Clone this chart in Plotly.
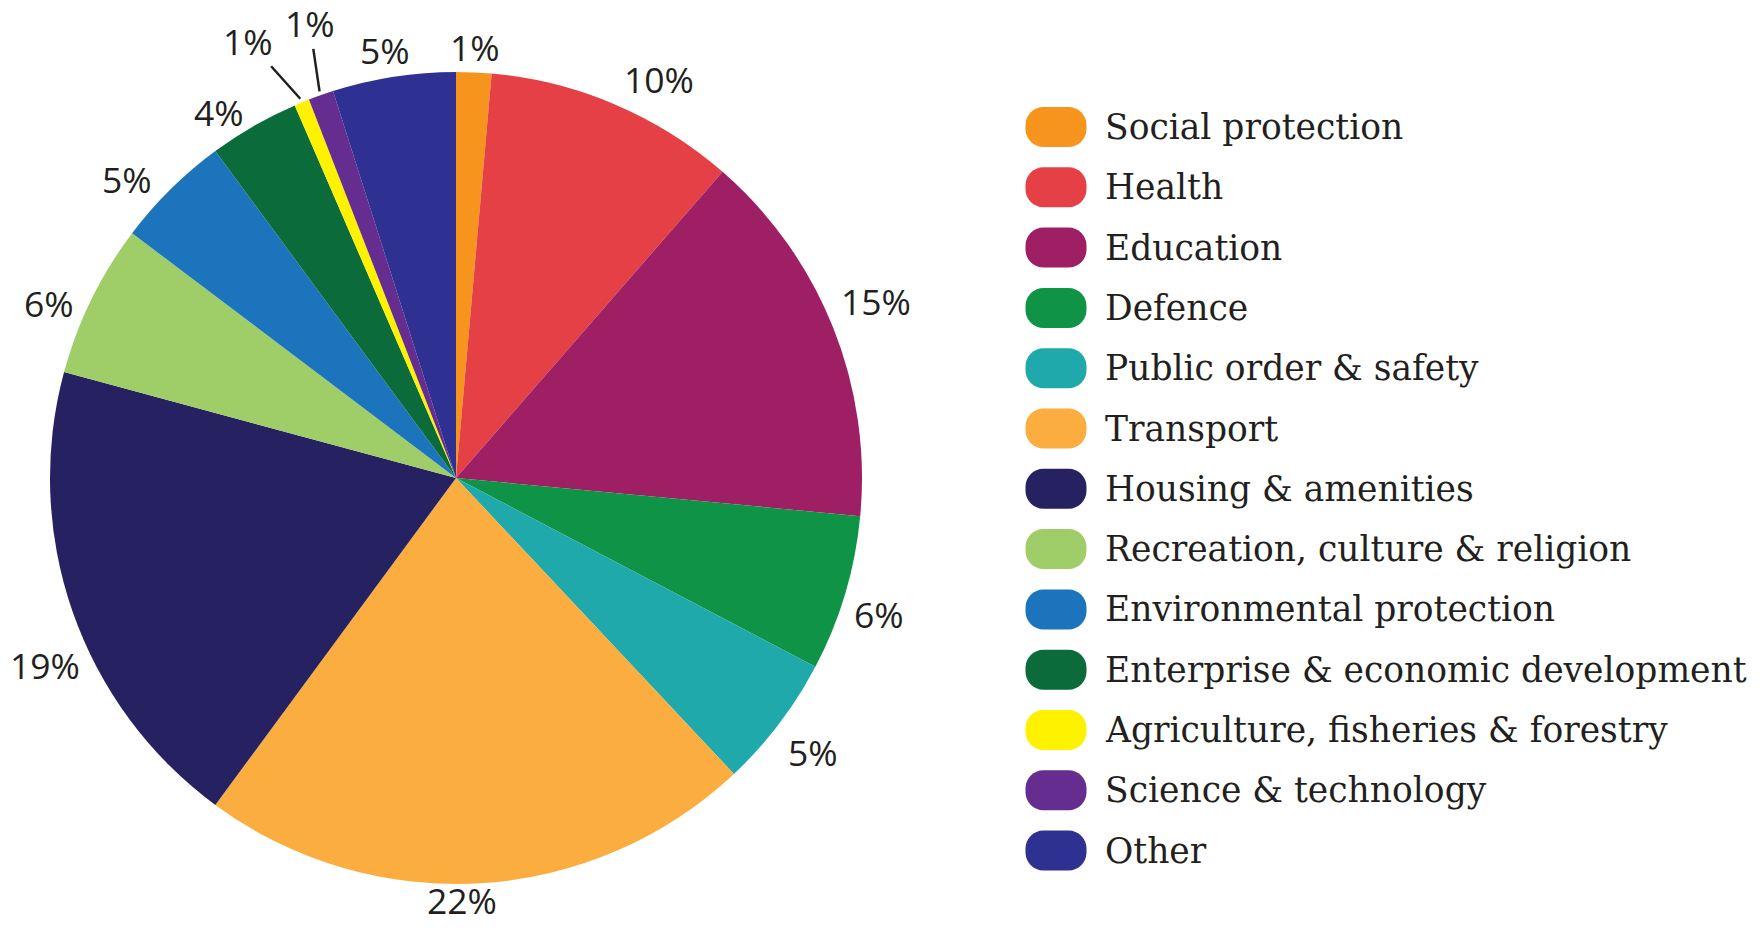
import math
import plotly.graph_objects as go

# Share of spending by function (%), clockwise from 12 o'clock
categories = [
    "Social protection", "Health", "Education", "Defence",
    "Public order & safety", "Transport", "Housing & amenities",
    "Recreation, culture & religion", "Environmental protection",
    "Enterprise & economic development", "Agriculture, fisheries & forestry",
    "Science & technology", "Other",
]
shares = [1.4, 10.0, 15.1, 6.2, 5.3, 22.1, 19.1, 6.1, 4.6, 3.6, 0.6, 1.0, 4.9]
colors = [
    "#F7941D", "#E54046", "#9E1F63", "#0E9347", "#20A9AA", "#FBAD40",
    "#262262", "#9FCD68", "#1C75BC", "#0B6B3A", "#FFF200", "#662D91",
    "#2E3192",
]
# slices whose label sits away from the rim on a pointer: (dx, dy) in px
pointer_offsets = {
    "Agriculture, fisheries & forestry": (-52, -58),
    "Science & technology": (-10, -68),
}
# hand-tuned nudges (px) for the rim labels
label_nudges = {
    "Health": (30, 8),
    "Education": (0, -9),
    "Defence": (0, 10),
    "Public order & safety": (4, 6),
    "Transport": (-20, -9),
    "Housing & amenities": (16, 38),
    "Recreation, culture & religion": (-9, 20),
    "Environmental protection": (-18, 16),
    "Enterprise & economic development": (-18, 15),
    "Other": (-5, 0),
}

W, H = 1764, 929
TEXT = "#231F20"
PCT_FONT = dict(family="Open Sans", size=35.5, color=TEXT)

# pie placement in pixels
cx, cy, r = 456, 478, 406

fig = go.Figure(go.Pie(
    labels=categories,
    values=shares,
    sort=False,
    direction="clockwise",
    rotation=0,
    marker=dict(colors=colors, line=dict(width=0)),
    textinfo="none",
    showlegend=False,
    hoverinfo="label+percent",
    domain=dict(x=[(cx - r) / W, (cx + r) / W],
                y=[1 - (cy + r) / H, 1 - (cy - r) / H]),
))


def px_to_paper(x, y):
    return x / W, 1 - y / H


# percentage labels placed just outside each slice's mid-angle
annotations = []
total = sum(shares)
cum = 0.0
pad = 8
for name, v in zip(categories, shares):
    mid = (cum + v / 2) / total
    cum += v
    theta = 2 * math.pi * mid
    ux, uy = math.sin(theta), -math.cos(theta)
    label = f"{round(100 * v / total):d}%"
    tw = 20.5 * (len(label) - 1) + 28
    th = 32
    if name in pointer_offsets:
        dx, dy = pointer_offsets[name]
        tip = r + 4
        x, y = px_to_paper(cx + tip * ux, cy + tip * uy)
        annotations.append(dict(
            x=x, y=y, xref="paper", yref="paper", text=label,
            showarrow=True, arrowhead=0, arrowwidth=2.5, arrowcolor=TEXT,
            ax=dx, ay=dy, standoff=0, font=PCT_FONT,
        ))
        continue
    ext = abs(ux) * tw / 2 + abs(uy) * th / 2
    dist = r + pad + ext
    nx, ny = label_nudges.get(name, (0, 0))
    x, y = px_to_paper(cx + dist * ux + nx, cy + dist * uy + ny)
    annotations.append(dict(
        x=x, y=y, xref="paper", yref="paper", text=label,
        showarrow=False, xanchor="center", yanchor="middle", font=PCT_FONT,
    ))

# legend built from rounded swatches and text
row0, step = 127, 60.3
sw_x, txt_x = 1056, 1103
hw, hh, cr = 30.5, 20, 18
k = 0.552 * cr
pill = (
    f"M {-hw + cr},{-hh} L {hw - cr},{-hh} "
    f"C {hw - cr + k},{-hh} {hw},{-hh + cr - k} {hw},{-hh + cr} "
    f"L {hw},{hh - cr} "
    f"C {hw},{hh - cr + k} {hw - cr + k},{hh} {hw - cr},{hh} "
    f"L {-hw + cr},{hh} "
    f"C {-hw + cr - k},{hh} {-hw},{hh - cr + k} {-hw},{hh - cr} "
    f"L {-hw},{-hh + cr} "
    f"C {-hw},{-hh + cr - k} {-hw + cr - k},{-hh} {-hw + cr},{-hh} Z"
)
shapes = []
for i, (name, col) in enumerate(zip(categories, colors)):
    ypx = row0 + i * step
    xa, ya = px_to_paper(sw_x, ypx)
    shapes.append(dict(
        type="path", xref="paper", yref="paper",
        xsizemode="pixel", ysizemode="pixel",
        xanchor=xa, yanchor=ya,
        path=pill, fillcolor=col, line=dict(width=0),
    ))
    tx, ty = px_to_paper(txt_x, ypx)
    annotations.append(dict(
        x=tx, y=ty, xref="paper", yref="paper",
        xanchor="left", yanchor="middle", showarrow=False,
        text=name, font=dict(family="DejaVu Serif", size=34.5, color=TEXT),
    ))

fig.update_layout(
    width=W, height=H,
    margin=dict(l=0, r=0, t=0, b=0, autoexpand=False),
    paper_bgcolor="white", plot_bgcolor="white",
    shapes=shapes, annotations=annotations,
)

fig.write_html("out.html")
